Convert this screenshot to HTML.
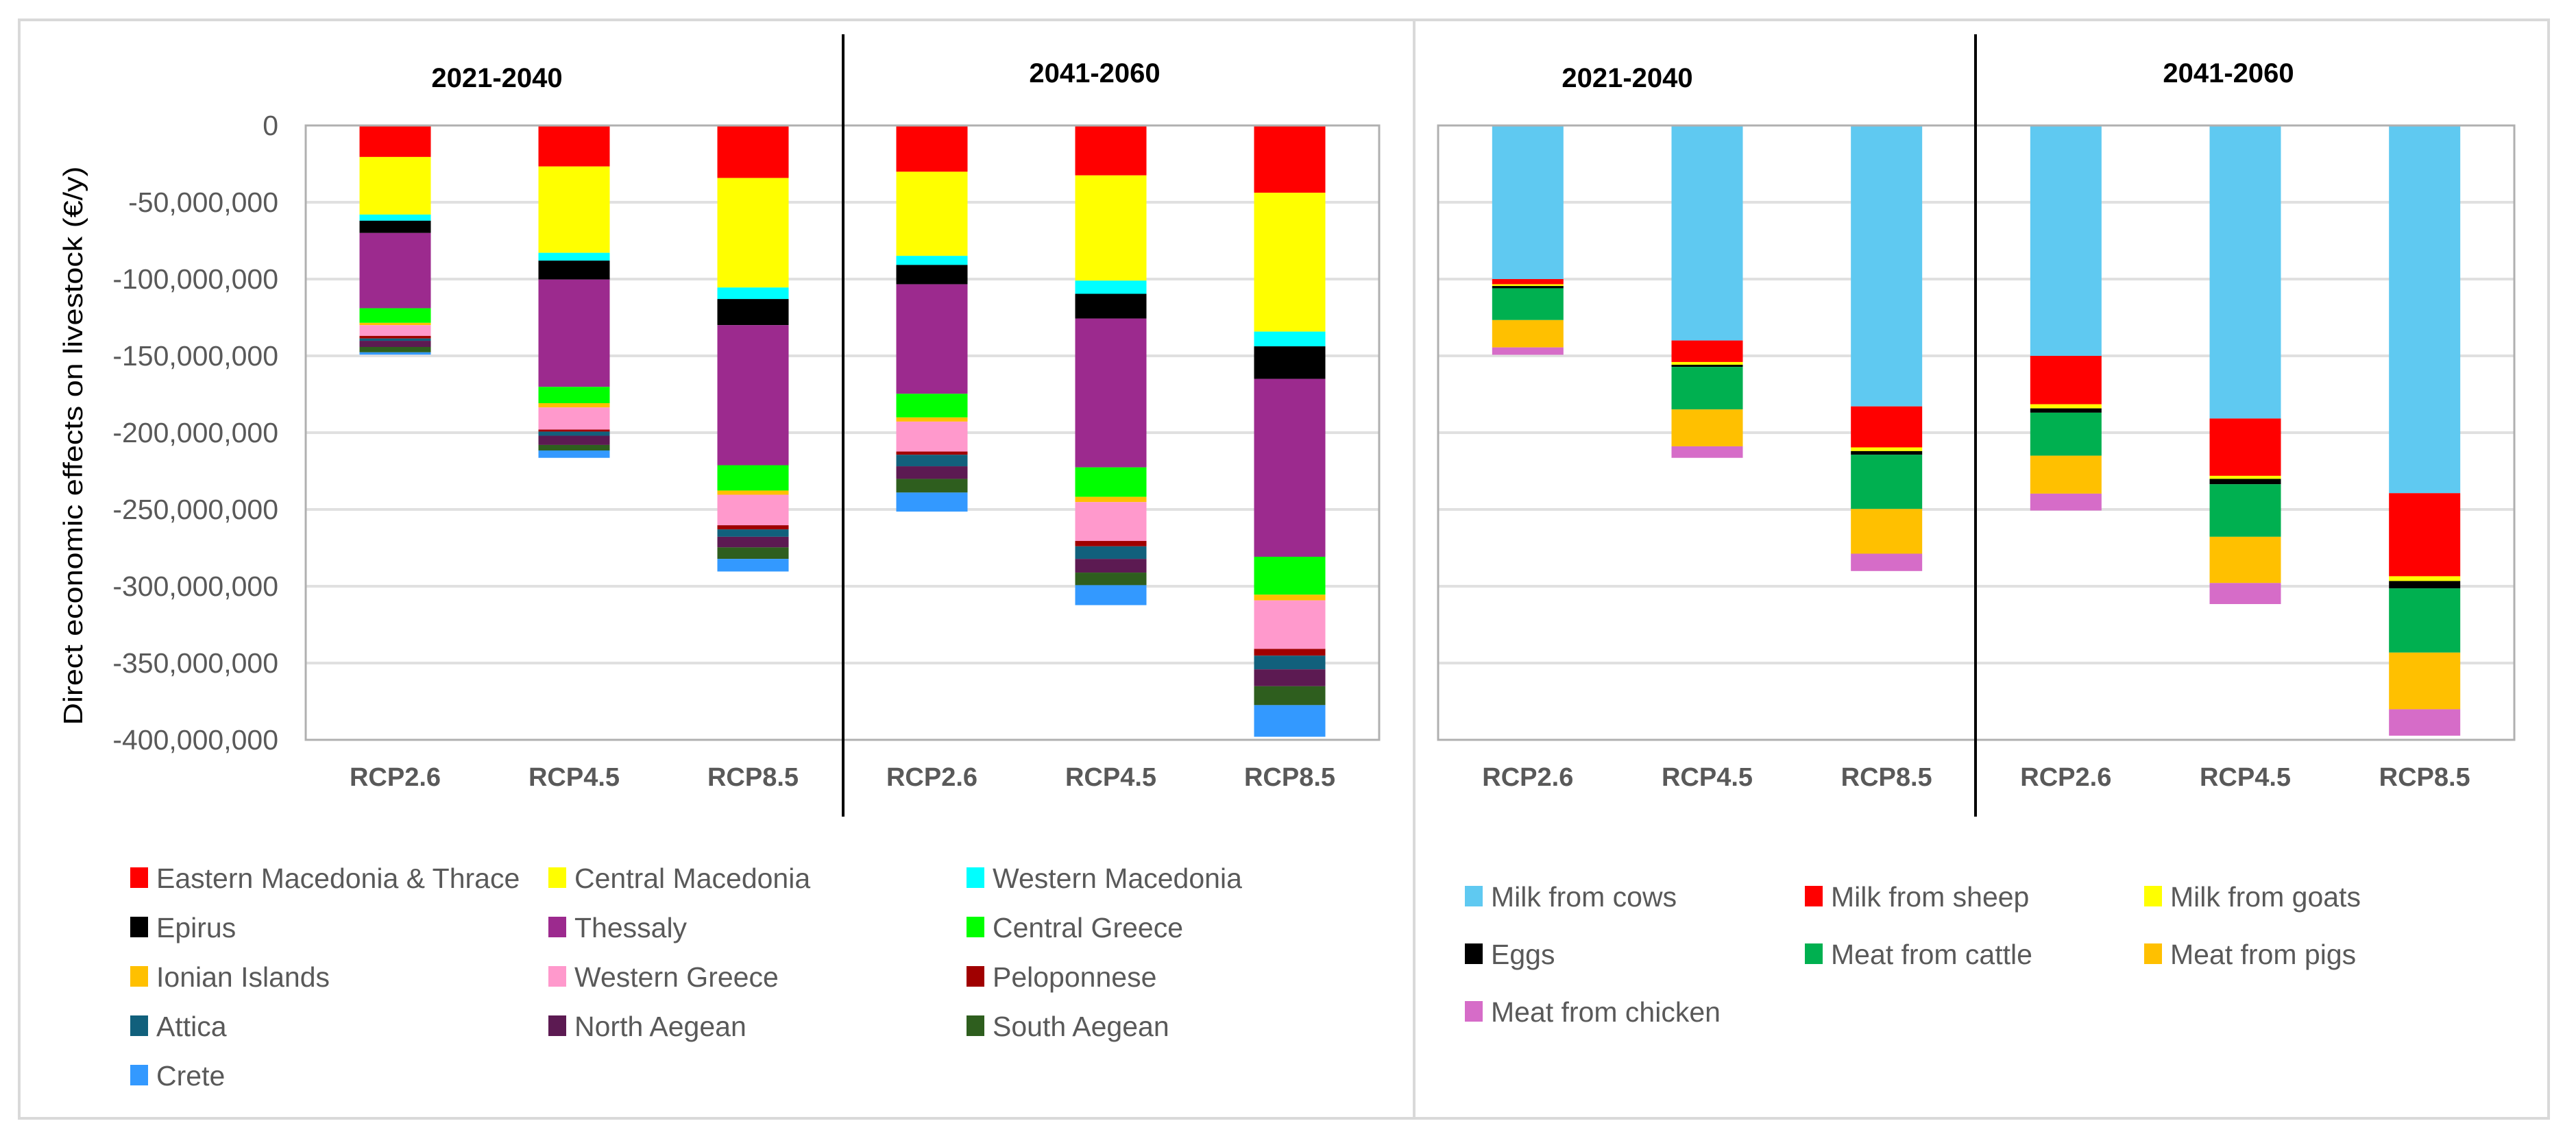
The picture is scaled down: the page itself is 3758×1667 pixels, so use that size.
<!DOCTYPE html>
<html><head><meta charset="utf-8"><style>
html,body{margin:0;padding:0;background:#fff}
svg{display:block}
text{font-family:"Liberation Sans",sans-serif}
</style></head><body>
<svg id="c" width="3758" height="1667" viewBox="0 0 3758 1667" xmlns="http://www.w3.org/2000/svg">
<rect x="28" y="29" width="2035" height="1602" fill="#fff" stroke="#d9d9d9" stroke-width="4"/>
<rect x="2063" y="29" width="1655" height="1602" fill="#fff" stroke="#d9d9d9" stroke-width="4"/>
<g id="g"></g>
</svg>
<script>
const categories=["RCP2.6","RCP4.5","RCP8.5","RCP2.6","RCP4.5","RCP8.5"];
const periods=["2021-2040","2041-2060"];
const yTicks=[0,-50,-100,-150,-200,-250,-300,-350,-400];
const yTickLabels=["0","-50,000,000","-100,000,000","-150,000,000","-200,000,000","-250,000,000","-300,000,000","-350,000,000","-400,000,000"];
const regions=["Eastern Macedonia & Thrace","Central Macedonia","Western Macedonia","Epirus","Thessaly","Central Greece","Ionian Islands","Western Greece","Peloponnese","Attica","North Aegean","South Aegean","Crete"];
const regionColors=["#ff0000","#ffff00","#00ffff","#000000","#9c2a8e","#00ff00","#ffc000","#ff99cc","#a00000","#11607c","#5c1a52","#2e5e1e","#3399ff"];
// values in millions €/y (loss), one array per bar
const regionBar1=[20.5,37.5,4,8,49,9.5,1.5,7,1.7,1.5,4,3.5,1.5];
const regionBar2=[26.7,56.2,5.1,12.3,69.9,10.6,2.8,14.4,1.3,2.7,6,3.6,4.8];
const regionBar3=[34.2,71.3,7.5,17,91.2,16.5,2.7,19.9,2.7,4.8,6.9,7.5,8.2];
const regionBar4=[30.1,54.8,5.9,12.6,71.3,15.4,2.7,19.5,2.1,7.5,8.2,8.9,12.4];
const regionBar5=[32.5,68.5,8.6,16.1,96.9,19.2,3.4,25.3,3.5,8.2,8.9,8.2,13];
const regionBar6=[43.8,90.4,9.6,21.2,115.8,24.7,3.7,31.6,4.4,8.9,11,12.3,20.6];
const products=["Milk from cows","Milk from sheep","Milk from goats","Eggs","Meat from cattle","Meat from pigs","Meat from chicken"];
const productColors=["#5fc9f1","#ff0000","#ffff00","#000000","#00b050","#ffc000","#d66cc8"];
const productBar1=[100,3.4,1.1,1.5,20.7,17.8,4.8];
const productBar2=[140,14,1.8,1.4,27.7,24,7.5];
const productBar3=[182.9,26.7,2.4,2.4,35.3,29.1,11.3];
const productBar4=[150,31.5,2.7,2.8,28,24.7,11];
const productBar5=[190.8,37.3,2,3.5,34.2,30.1,13.7];
const productBar6=[239.4,54.1,3.1,4.8,41.8,36.9,17.2];

const NS="http://www.w3.org/2000/svg";
const G=document.getElementById('g');
function mk(t,a,txt){const e=document.createElementNS(NS,t);for(const k in a)e.setAttribute(k,a[k]);if(txt!==undefined)e.textContent=txt;G.appendChild(e);return e;}
const Y0=183,Y1=1079;
function yScale(v){return Y0+(-v)/400*(Y1-Y0);}

function chart(px0,px1,bars,colors,prefix,showAxis,sepX,titleX){
  const bw=(px1-px0)/categories.length;
  function xScale(i){return px0+bw*(i+0.5);}
  yTicks.forEach((t,i)=>{
    if(i>0&&i<yTicks.length-1){const l=mk('line',{x1:px0,x2:px1,y1:yScale(t),y2:yScale(t),stroke:'#e0e0e0','stroke-width':4});
    
    }
    if(showAxis){const tx=mk('text',{x:406,y:yScale(t)+14,'text-anchor':'end','font-size':41,fill:'#595959'},yTickLabels[i]);
    
    }
  });
  bars.forEach((vals,i)=>{
    let acc=0;const cx=xScale(i);
    vals.forEach((v,k)=>{
      const r=mk('rect',{x:cx-52,y:yScale(-acc),width:104,height:yScale(-(acc+v))-yScale(-acc),fill:colors[k]});
      
      
      acc+=v;
    });
    const lb=mk('text',{x:cx,y:1146,'text-anchor':'middle','font-size':38,fill:'#595959','font-weight':'bold'},categories[i]);
    
    
  });
  const fr=mk('rect',{x:px0,y:Y0,width:px1-px0,height:Y1-Y0,fill:'none',stroke:'#b0b0b0','stroke-width':3});
  
  
  const sp=mk('line',{x1:sepX,x2:sepX,y1:50,y2:1191,stroke:'#000','stroke-width':4});
  
  
  periods.forEach((p,i)=>{
    const t=mk('text',{x:titleX[i],y:i?120:127,'text-anchor':'middle','font-size':40,'font-weight':'bold',fill:'#000'},p);
    
    
  });
}
chart(446,2012,[regionBar1,regionBar2,regionBar3,regionBar4,regionBar5,regionBar6],regionColors,'region-',true,1230,[725,1597]);
chart(2098,3668,[productBar1,productBar2,productBar3,productBar4,productBar5,productBar6],productColors,'product-',false,2882,[2374,3251]);

const at=mk('text',{transform:'translate(120,650) rotate(-90)','text-anchor':'middle','font-size':39,fill:'#000',textLength:815,lengthAdjust:'spacingAndGlyphs'},'Direct economic effects on livestock (€/y)');



function legend(names,colors,x0,colX,y0,dy,prefix){
  names.forEach((n,i)=>{
    const c=i%3,r=Math.floor(i/3);
    const x=x0+colX[c],y=y0+r*dy;
    const s=mk('rect',{x:x,y:y-15,width:26,height:30,fill:colors[i]});
    
    
    const t=mk('text',{x:x+38,y:y+15,'font-size':41,fill:'#595959'},n);
    
    
  });
}
legend(regions,regionColors,190,[0,610,1220],1280,72,'region-');
legend(products,productColors,2137,[0,496,991],1307,84,'product-');
</script>
</body></html>
